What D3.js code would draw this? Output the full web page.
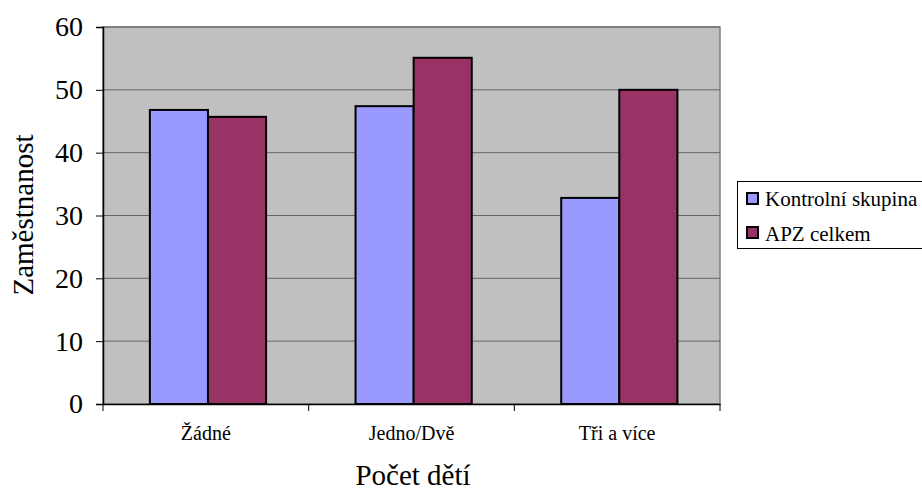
<!DOCTYPE html>
<html><head><meta charset="utf-8">
<script src="https://cdn.jsdelivr.net/npm/d3@7"></script>
<style>body{margin:0;background:#fff}svg{display:block}</style>
</head><body>
<svg id="c" width="922" height="491" font-family="Liberation Serif"></svg>
<script>
const categories = ["Žádné", "Jedno/Dvě", "Tři a více"];
const seriesNames = ["Kontrolní skupina", "APZ celkem"];
const kontrolni = [46.8, 47.4, 32.8];
const apz = [45.7, 55.1, 50.0];
const yTicks = [0, 10, 20, 30, 40, 50, 60];
const colors = ["#9999ff", "#993366"];

const svg = d3.select("#c");
const L = 103, R = 720, T = 27, B = 404;
const font = "Liberation Serif";

const x0 = d3.scaleBand().domain(categories).range([L, R]).padding(0);
const x1 = d3.scaleBand().domain(seriesNames).range([0, x0.bandwidth()]).paddingInner(0).paddingOuter(0.77).align(0.524);
const y = d3.scaleLinear().domain([0, 60]).range([B, T]);

// plot background
svg.append("rect").attr("x", L).attr("y", T).attr("width", R - L).attr("height", B - T)
  .attr("fill", "#c0c0c0").attr("stroke", "#808080").attr("stroke-width", 1.5);

// gridlines
svg.append("g").selectAll("line").data(yTicks.filter(d => d > 0)).join("line")
  .attr("x1", L).attr("x2", R).attr("y1", d => y(d)).attr("y2", d => y(d))
  .attr("stroke", "#666").attr("stroke-width", 1);

// bars
const data = categories.map((c, i) => ({c, vals: [kontrolni[i], apz[i]]}));
const g = svg.append("g").selectAll("g").data(data).join("g")
  .attr("transform", d => `translate(${x0(d.c)},0)`);
g.selectAll("rect").data(d => d.vals.map((v, j) => ({v, s: seriesNames[j], j}))).join("rect")
  .attr("x", d => x1(d.s)).attr("width", x1.bandwidth())
  .attr("y", d => y(d.v)).attr("height", d => B - y(d.v))
  .attr("fill", d => colors[d.j]).attr("stroke", "#000").attr("stroke-width", 2);

// y axis
const ya = svg.append("g").attr("transform", `translate(${L},0)`)
  .call(d3.axisLeft(y).tickValues(yTicks).tickSize(7).tickPadding(13));
ya.attr("font-family", font);
ya.select(".domain").attr("stroke", "#000").attr("stroke-width", 1.5);
ya.selectAll(".tick line").attr("stroke", "#000");
ya.selectAll("text").attr("font-size", 28).attr("fill", "#000");

// x axis
const xa = svg.append("g").attr("transform", `translate(0,${B})`)
  .call(d3.axisBottom(x0).tickSize(0).tickPadding(22));
xa.attr("font-family", font);
xa.select(".domain").attr("stroke", "#000").attr("stroke-width", 1.5);
xa.selectAll("text").attr("font-size", 20).attr("fill", "#000");
svg.append("g").selectAll("line").data(d3.range(categories.length + 1)).join("line")
  .attr("x1", i => L + i * x0.step()).attr("x2", i => L + i * x0.step())
  .attr("y1", B).attr("y2", B + 7).attr("stroke", "#000");

// axis titles
svg.append("text").attr("transform", "translate(33,215) rotate(-90)")
  .attr("text-anchor", "middle").attr("font-family", font).attr("font-size", 29).text("Zaměstnanost");
svg.append("text").attr("x", 413).attr("y", 485)
  .attr("text-anchor", "middle").attr("font-family", font).attr("font-size", 29).text("Počet dětí");

// legend
const lg = svg.append("g");
lg.append("rect").attr("x", 737.5).attr("y", 181.5).attr("width", 200).attr("height", 67)
  .attr("fill", "#fff").attr("stroke", "#000").attr("stroke-width", 1);
seriesNames.forEach((s, i) => {
  lg.append("rect").attr("x", 747).attr("y", 193 + i * 34).attr("width", 11).attr("height", 11)
    .attr("fill", colors[i]).attr("stroke", "#000").attr("stroke-width", 2);
  lg.append("text").attr("x", 765).attr("y", 206 + i * 35)
    .attr("font-family", font).attr("font-size", 21).text(s);
});
</script>
</body></html>
